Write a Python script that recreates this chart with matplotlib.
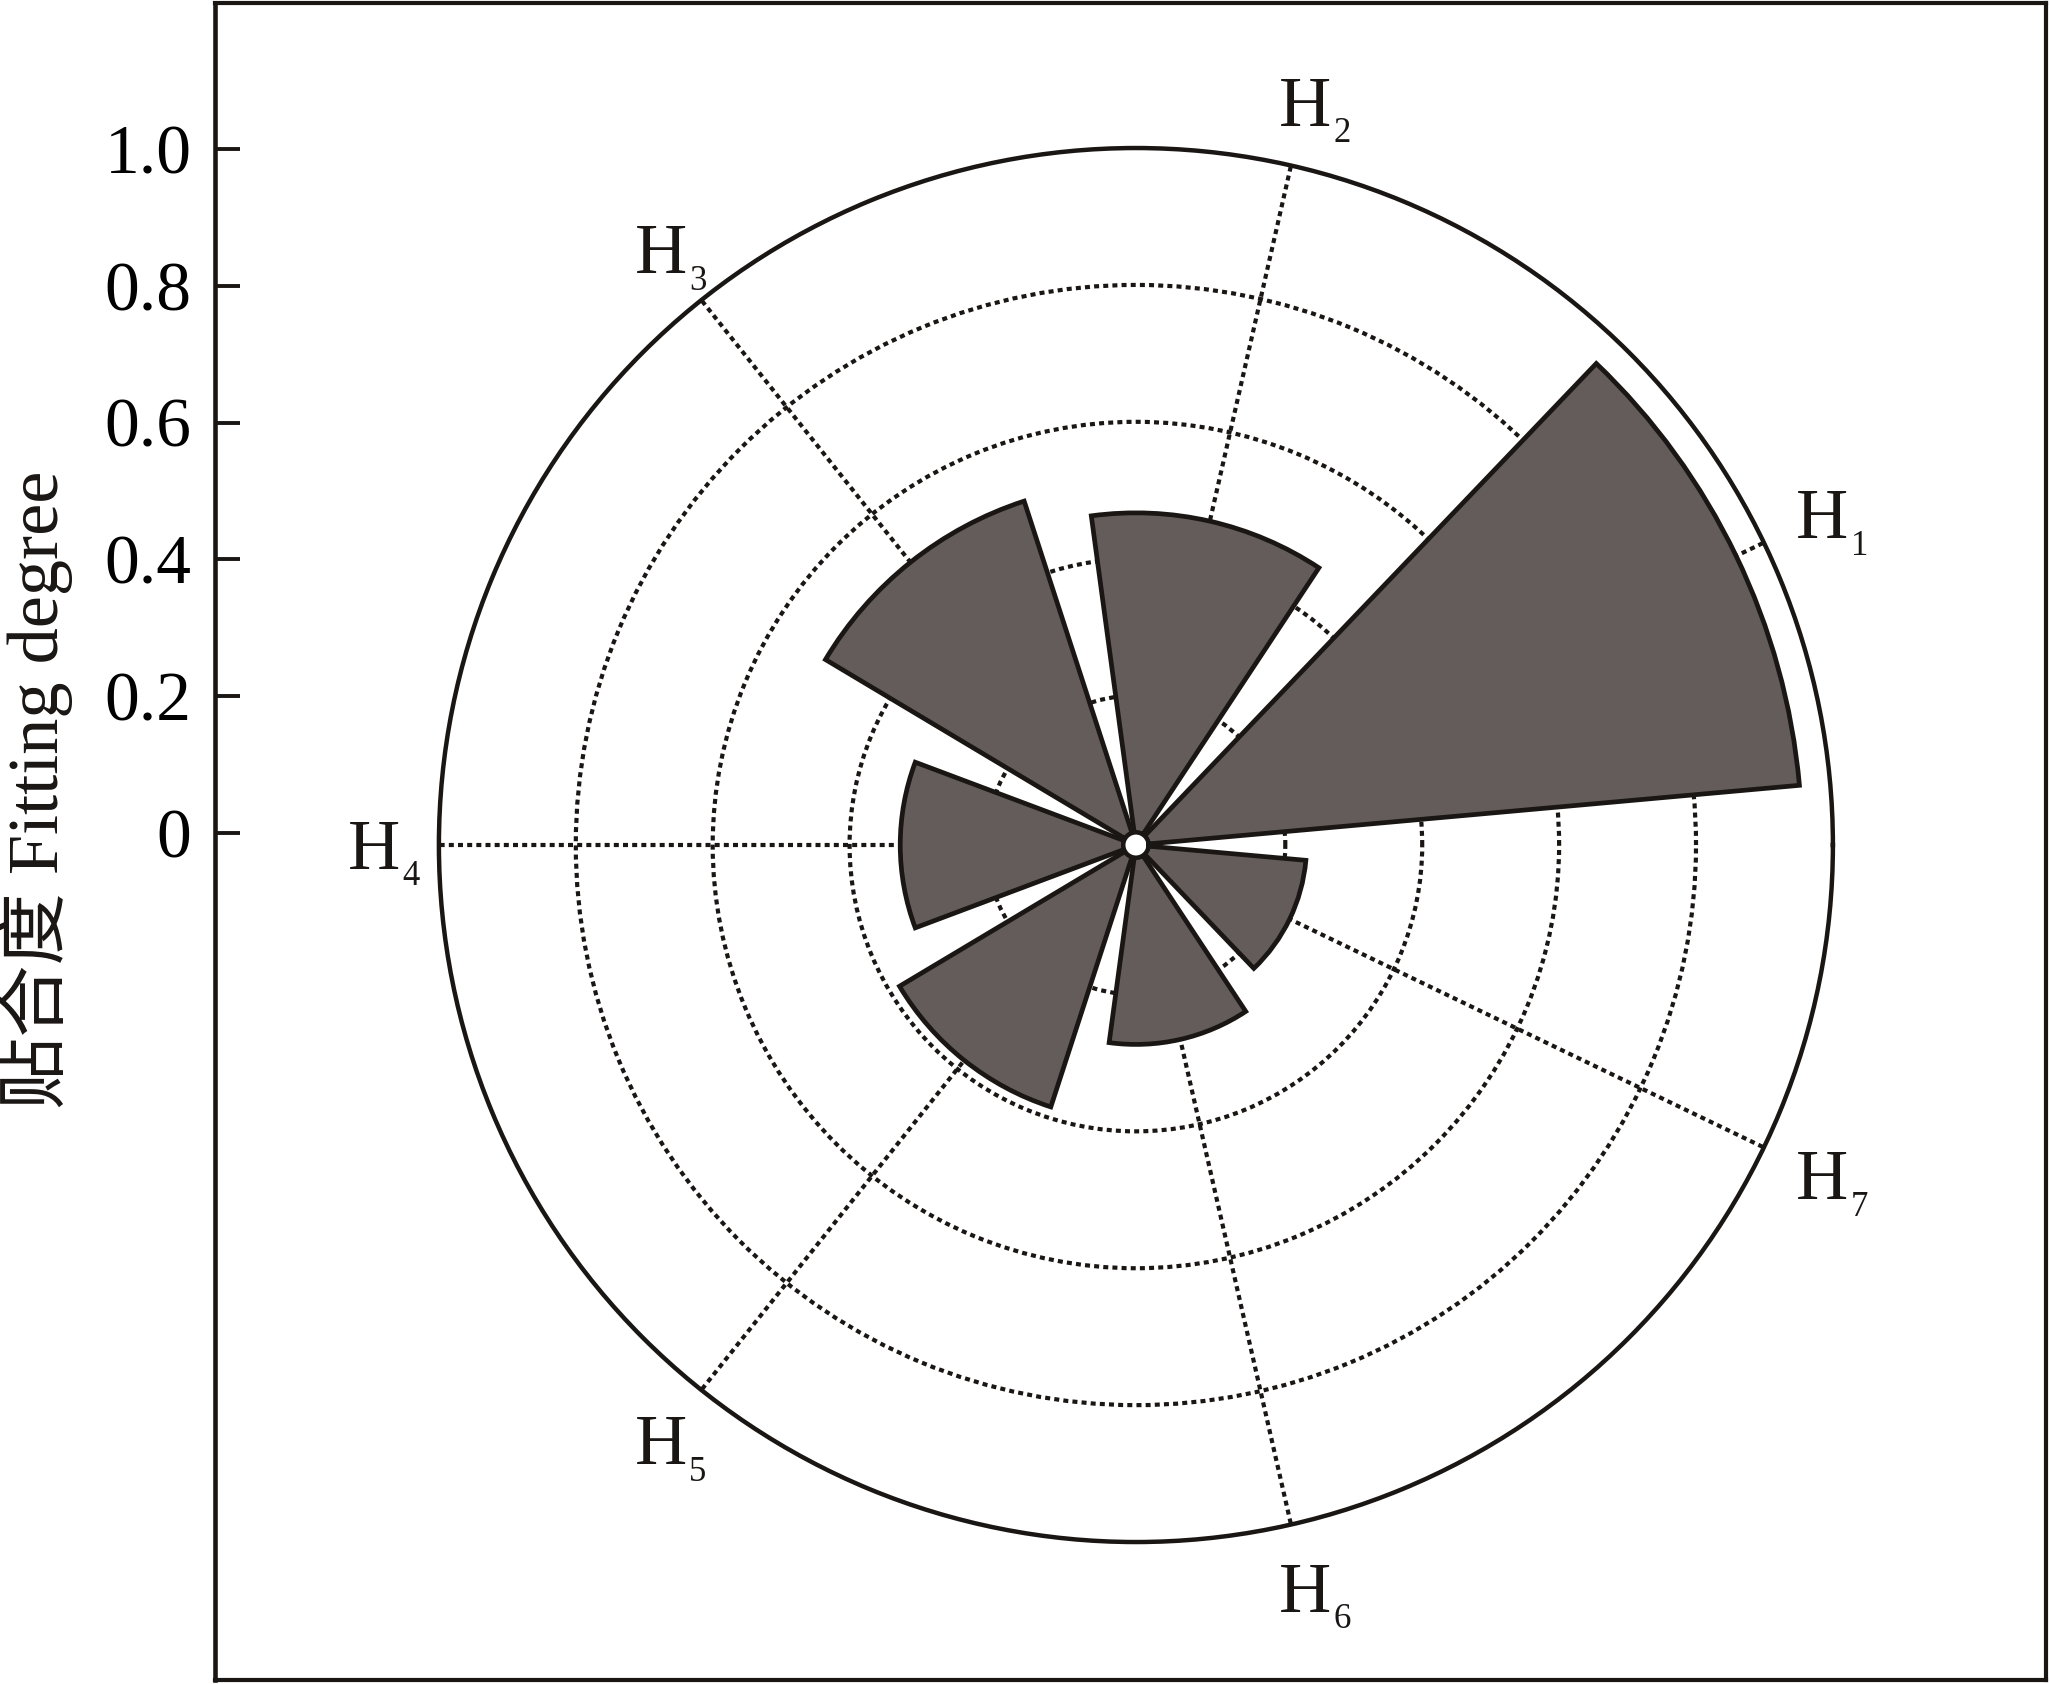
import numpy as np
import matplotlib.pyplot as plt

# data
labels = ["1", "2", "3", "4", "5", "6", "7"]
values = [0.955, 0.467, 0.510, 0.326, 0.384, 0.273, 0.231]
y_ticks = [0, 0.2, 0.4, 0.6, 0.8, 1.0]
y_tick_labels = ["0", "0.2", "0.4", "0.6", "0.8", "1.0"]
r_grid = [0.2, 0.4, 0.6, 0.8]

ink = "#1a1614"
fill = "#645c5a"

plt.rcParams["font.family"] = ["Liberation Serif", "Noto Sans CJK SC"]

fig = plt.figure(figsize=(20.5, 16.84), dpi=100)

# outer frame with the linear scale on the left
frame = fig.add_axes([0.1049, 0.0024, 0.8932, 0.9958])
frame.set_xlim(0, 1)
frame.set_ylim(-1.238, 1.2135)
frame.set_xticks([])
frame.set_yticks(y_ticks)
frame.set_yticklabels(y_tick_labels)
frame.tick_params(axis="y", direction="in", length=18, width=2.8,
                  color=ink, labelsize=50, pad=17)
for s in frame.spines.values():
    s.set_linewidth(3.0)
    s.set_color(ink)
frame.spines["left"].set_linewidth(3.3)

# polar rose
step = 2 * np.pi / len(values)
theta = np.pi - (3 - np.arange(len(values))) * step

ax = fig.add_axes([0.2141, 0.0843, 0.680, 0.8278], projection="polar")
ax.set_rorigin(-0.0183)
ax.set_ylim(0, 1)
ax.bar(theta, values, width=0.8 * step, color=fill, edgecolor=ink,
       linewidth=3.4, joinstyle="miter", zorder=2)
ax.set_xticks(theta)
ax.set_xticklabels([])
ax.set_yticks(r_grid)
ax.set_yticklabels([])
ax.grid(True, color=ink, linestyle=(0, (1.2, 1.0)), linewidth=3.0)
ax.set_axisbelow(True)
ax.tick_params(axis="x", direction="in", length=20, width=2.8, color=ink)
ax.spines["polar"].set_linewidth(3.2)
ax.spines["polar"].set_color(ink)
ax.spines["inner"].set_linewidth(3.0)
ax.spines["inner"].set_color(ink)

for t, lab in zip(theta, labels):
    ax.annotate("H", xy=(t, 1.095), xytext=(0, -17), textcoords="offset points",
                ha="center", va="baseline", fontsize=52, color=ink,
                annotation_clip=False)
    ax.annotate(lab, xy=(t, 1.095), xytext=(20.5, -29), textcoords="offset points",
                ha="left", va="baseline", fontsize=25, color=ink,
                annotation_clip=False)

fig.text(0.017, 0.531, "贴合度 Fitting degree", rotation=90, fontsize=52,
         ha="center", va="center", color=ink)

fig.savefig("out.png", dpi=100)
